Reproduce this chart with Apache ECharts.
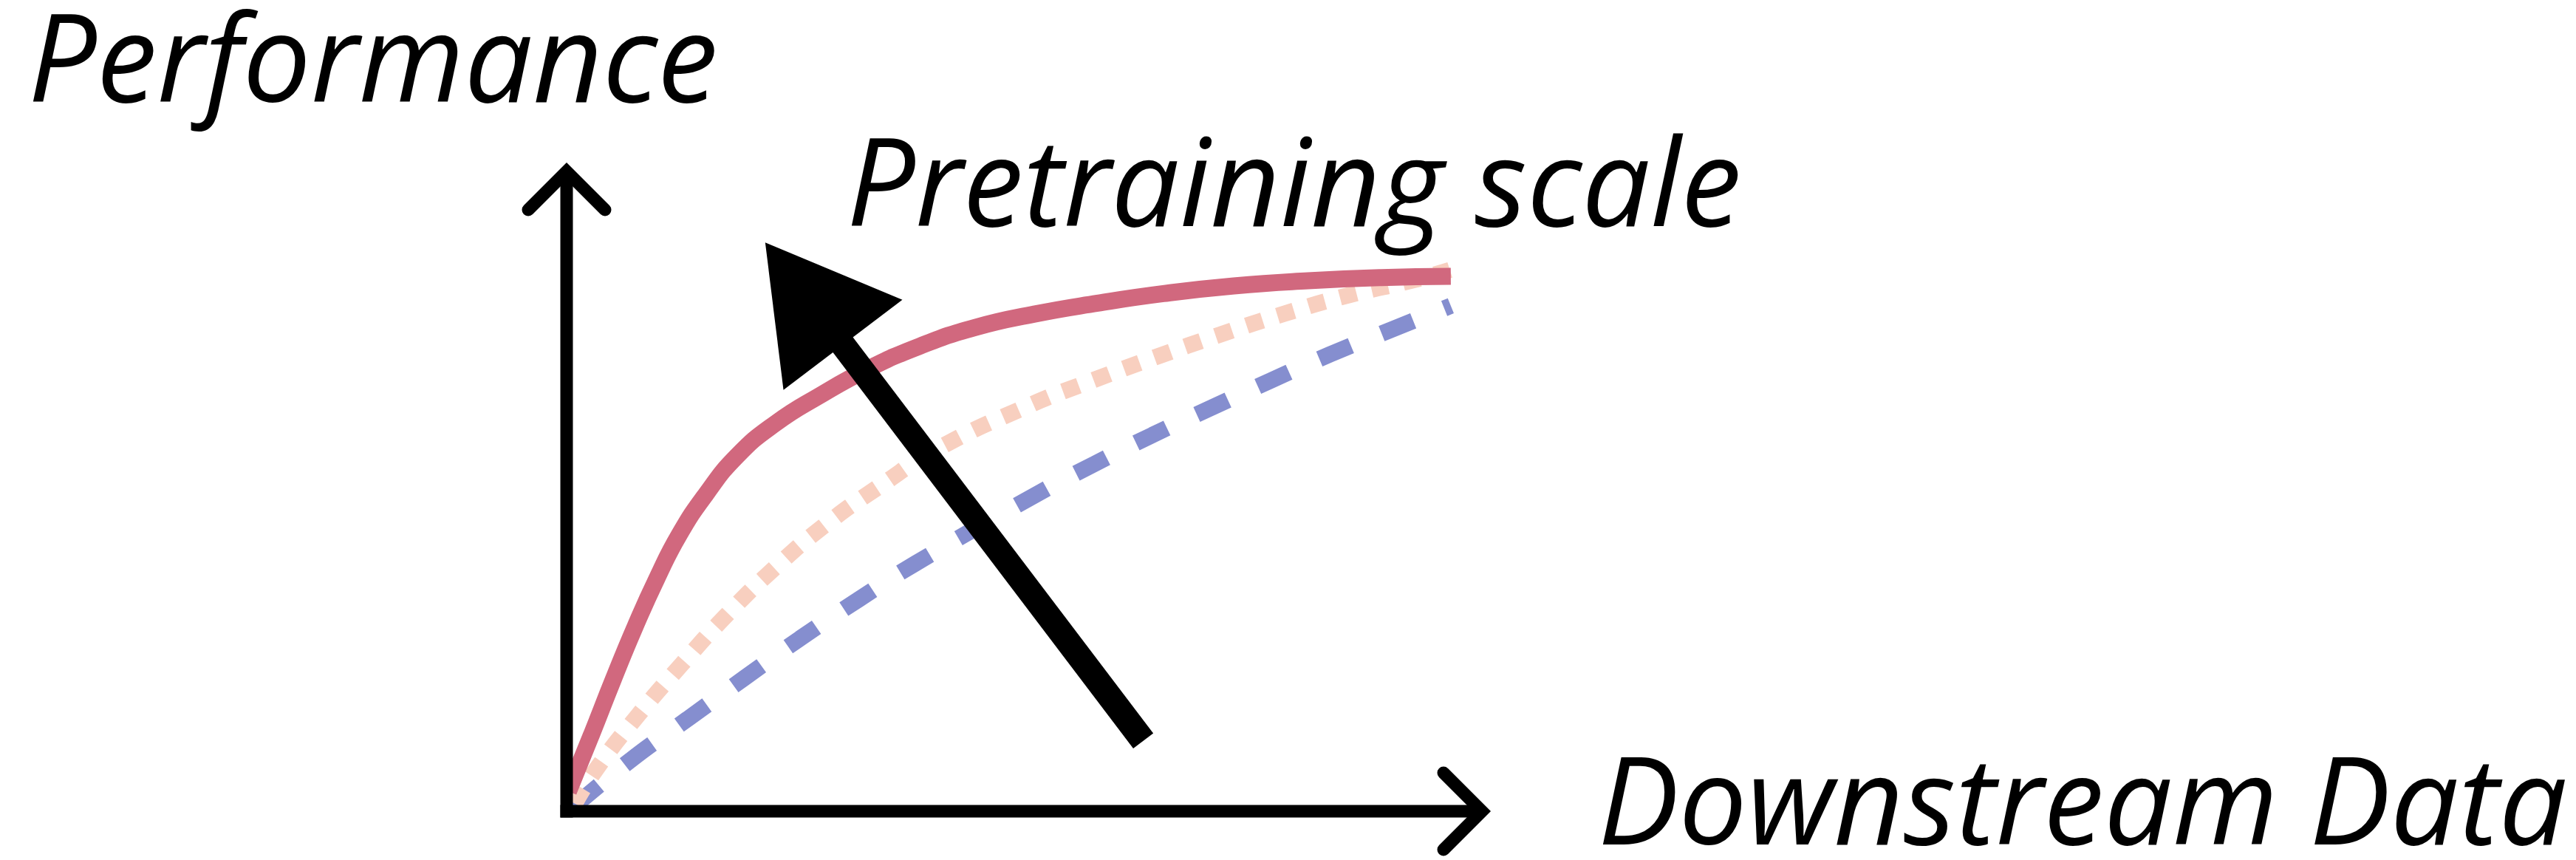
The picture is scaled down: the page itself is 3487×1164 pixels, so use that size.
<!DOCTYPE html>
<html>
<head>
<meta charset="utf-8">
<title>Downstream data vs. performance</title>
<script src="https://cdn.jsdelivr.net/npm/echarts@6/dist/echarts.min.js"></script>
<style>
  html, body { margin: 0; padding: 0; background: #ffffff; }
  #chart { width: 3487px; height: 1164px; }
</style>
</head>
<body>
<div id="chart"></div>
<script>
// Performance as a function of downstream data, one curve per pretraining scale.
// x: amount of downstream data, y: performance (both in arbitrary units 0..10).
const largePretraining = [
  [0.02, 0.31], [0.27, 1.19], [0.51, 2.06], [0.75, 2.89], [0.99, 3.65],
  [1.23, 4.32], [1.52, 4.95], [1.86, 5.55], [2.28, 6.06], [2.77, 6.50],
  [3.29, 6.91], [3.86, 7.27], [4.46, 7.56], [5.11, 7.77], [5.80, 7.94],
  [6.52, 8.09], [7.29, 8.21], [8.10, 8.29], [8.90, 8.34], [9.66, 8.36]
];
const mediumPretraining = [
  [0.09, 0.12], [0.33, 0.67], [0.78, 1.50], [1.26, 2.30], [1.75, 3.07],
  [2.28, 3.81], [2.83, 4.48], [3.43, 5.09], [4.06, 5.67], [5.05, 6.34],
  [5.74, 6.73], [6.44, 7.10], [7.14, 7.45], [7.85, 7.78], [8.56, 8.07],
  [9.28, 8.31], [9.65, 8.46]
];
const smallPretraining = [
  [0.07, 0.06], [0.70, 0.80], [1.32, 1.44], [1.93, 2.07], [2.55, 2.70],
  [3.18, 3.30], [3.82, 3.88], [5.13, 4.95], [5.77, 5.43], [6.40, 5.88],
  [7.05, 6.31], [7.69, 6.73], [8.34, 7.14], [9.00, 7.52], [9.66, 7.90]
];
// Arrow showing the direction of growing pretraining scale: [tailX, tailY, tipX, tipY]
const scaleArrow = [[6.30, 1.10, 2.17, 8.89]];
// Axis ends (the axes start at the origin)
const axisEnds = [[10, 0], [0, 10]];
// Texts
const yAxisTitle = 'Performance';
const xAxisTitle = 'Downstream Data';
const arrowTitle = 'Pretraining scale';

const AXIS_WIDTH = 17;
const CHEVRON_ARM = 52;
const SHAFT_WIDTH = 34;
const HEAD_LENGTH = 174;
const HEAD_HALF = 101;
const TITLE_FONT = 'italic 164px "Open Sans"';

const chart = echarts.init(document.getElementById('chart'), null, { renderer: 'canvas' });

// Axis line from the origin to its end, finished with an open chevron
function renderAxis(params, api) {
  const o = api.coord([0, 0]);
  const e = api.coord([api.value(0), api.value(1)]);
  const dx = e[0] - o[0], dy = e[1] - o[1];
  const len = Math.hypot(dx, dy);
  const ux = dx / len, uy = dy / len;
  const px = -uy, py = ux;
  const half = AXIS_WIDTH / 2;
  const a = CHEVRON_ARM;
  return {
    type: 'group',
    children: [
      {
        type: 'line',
        shape: { x1: o[0] - ux * half, y1: o[1] - uy * half, x2: e[0], y2: e[1] },
        style: { stroke: '#000', lineWidth: AXIS_WIDTH, lineCap: 'butt' }
      },
      {
        type: 'polyline',
        shape: { points: [
          [e[0] - ux * a + px * a, e[1] - uy * a + py * a],
          [e[0], e[1]],
          [e[0] - ux * a - px * a, e[1] - uy * a - py * a]
        ] },
        style: { stroke: '#000', fill: null, lineWidth: AXIS_WIDTH, lineCap: 'round', lineJoin: 'miter' }
      }
    ]
  };
}

// Thick shaft with a solid triangular head
function renderScaleArrow(params, api) {
  const tail = api.coord([api.value(0), api.value(1)]);
  const tip = api.coord([api.value(2), api.value(3)]);
  const dx = tip[0] - tail[0], dy = tip[1] - tail[1];
  const len = Math.hypot(dx, dy);
  const ux = dx / len, uy = dy / len;
  const px = -uy, py = ux;
  const base = [tip[0] - ux * HEAD_LENGTH, tip[1] - uy * HEAD_LENGTH];
  return {
    type: 'group',
    children: [
      {
        type: 'line',
        shape: { x1: tail[0], y1: tail[1], x2: base[0] + ux * 4, y2: base[1] + uy * 4 },
        style: { stroke: '#000', lineWidth: SHAFT_WIDTH, lineCap: 'butt' }
      },
      {
        type: 'polygon',
        shape: { points: [
          tip,
          [base[0] + px * HEAD_HALF, base[1] + py * HEAD_HALF],
          [base[0] - px * HEAD_HALF, base[1] - py * HEAD_HALF]
        ] },
        style: { fill: '#000' }
      }
    ]
  };
}

const curveBase = {
  type: 'line',
  smooth: 0.5,
  showSymbol: false,
  silent: true
};

const option = {
  backgroundColor: '#ffffff',
  animation: false,
  grid: { left: 767, right: 3487 - 2006, top: 232, bottom: 1164 - 1098 },
  xAxis: { type: 'value', min: 0, max: 10, show: false },
  yAxis: { type: 'value', min: 0, max: 10, show: false },
  series: [
    Object.assign({}, curveBase, {
      name: 'small',
      data: smallPretraining,
      lineStyle: { color: '#858ecf', width: 22, type: [46, 45], cap: 'butt' },
      z: 2
    }),
    Object.assign({}, curveBase, {
      name: 'medium',
      data: mediumPretraining,
      lineStyle: { color: '#f8cfbf', width: 22, type: [23, 21], cap: 'butt' },
      z: 3
    }),
    Object.assign({}, curveBase, {
      name: 'large',
      data: largePretraining,
      lineStyle: { color: '#d1687e', width: 23, type: 'solid', cap: 'butt', join: 'round' },
      z: 4
    }),
    {
      name: 'axes',
      type: 'custom',
      data: axisEnds,
      renderItem: renderAxis,
      clip: false,
      silent: true,
      z: 5
    },
    {
      name: 'pretraining scale',
      type: 'custom',
      data: scaleArrow,
      renderItem: renderScaleArrow,
      clip: false,
      silent: true,
      z: 6
    }
  ],
  graphic: [
    { type: 'text', left: 38, top: 9, style: { text: yAxisTitle, font: TITLE_FONT, fill: '#000' } },
    { type: 'text', left: 1146, top: 177, style: { text: arrowTitle, font: TITLE_FONT, fill: '#000' } },
    { type: 'text', left: 2163, top: 1014, style: { text: xAxisTitle, font: TITLE_FONT, fill: '#000' } }
  ]
};
chart.setOption(option);
</script>
</body>
</html>
